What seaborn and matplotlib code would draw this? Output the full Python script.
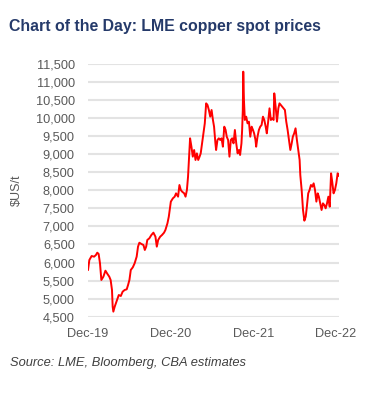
import matplotlib
matplotlib.use("Agg")
import matplotlib.pyplot as plt
import matplotlib.dates as mdates
import matplotlib.ticker as mticker
import pandas as pd
import seaborn as sns

dates = [
    "2019-12-01", "2019-12-07", "2019-12-17", "2019-12-28", "2020-01-05", "2020-01-11",
    "2020-01-17", "2020-01-23", "2020-01-29", "2020-02-07", "2020-02-16", "2020-02-25",
    "2020-03-04", "2020-03-10", "2020-03-16", "2020-03-19", "2020-03-22", "2020-03-28",
    "2020-04-06", "2020-04-15", "2020-04-24", "2020-05-02", "2020-05-11", "2020-05-20",
    "2020-05-26", "2020-06-01", "2020-06-07", "2020-06-16", "2020-06-24", "2020-07-03",
    "2020-07-09", "2020-07-15", "2020-07-24", "2020-08-02", "2020-08-08", "2020-08-14",
    "2020-08-19", "2020-08-28", "2020-09-06", "2020-09-15", "2020-09-24", "2020-09-30",
    "2020-10-06", "2020-10-15", "2020-10-23", "2020-11-01", "2020-11-07", "2020-11-16",
    "2020-11-22", "2020-12-01", "2020-12-10", "2020-12-18", "2020-12-24", "2021-01-02",
    "2021-01-08", "2021-01-14", "2021-01-20", "2021-01-29", "2021-02-04", "2021-02-10",
    "2021-02-15", "2021-02-18", "2021-02-21", "2021-02-24", "2021-03-02", "2021-03-08",
    "2021-03-14", "2021-03-20", "2021-03-26", "2021-04-01", "2021-04-07", "2021-04-12",
    "2021-04-18", "2021-04-24", "2021-04-30", "2021-05-06", "2021-05-12", "2021-05-18",
    "2021-05-24", "2021-05-30", "2021-06-05", "2021-06-10", "2021-06-16", "2021-06-19",
    "2021-06-25", "2021-07-01", "2021-07-07", "2021-07-13", "2021-07-19", "2021-07-25",
    "2021-07-31", "2021-08-05", "2021-08-11", "2021-08-17", "2021-08-23", "2021-08-29",
    "2021-09-04", "2021-09-10", "2021-09-16", "2021-09-22", "2021-09-28", "2021-10-03",
    "2021-10-09", "2021-10-12", "2021-10-15", "2021-10-17", "2021-10-20", "2021-10-24",
    "2021-10-30", "2021-11-05", "2021-11-11", "2021-11-17", "2021-11-23", "2021-11-29",
    "2021-12-04", "2021-12-10", "2021-12-13", "2021-12-19", "2021-12-25", "2021-12-31",
    "2022-01-06", "2022-01-12", "2022-01-18", "2022-01-24", "2022-01-29", "2022-02-04",
    "2022-02-10", "2022-02-16", "2022-02-22", "2022-02-28", "2022-03-03", "2022-03-09",
    "2022-03-15", "2022-03-21", "2022-03-26", "2022-04-01", "2022-04-07", "2022-04-13",
    "2022-04-19", "2022-04-25", "2022-05-01", "2022-05-07", "2022-05-13", "2022-05-19",
    "2022-05-24", "2022-05-30", "2022-06-05", "2022-06-11", "2022-06-17", "2022-06-23",
    "2022-06-26", "2022-07-02", "2022-07-08", "2022-07-14", "2022-07-20", "2022-07-25",
    "2022-07-31", "2022-08-06", "2022-08-12", "2022-08-18", "2022-08-24", "2022-08-30",
    "2022-09-05", "2022-09-11", "2022-09-16", "2022-09-22", "2022-09-28", "2022-10-04",
    "2022-10-10", "2022-10-16", "2022-10-22", "2022-10-28", "2022-11-03", "2022-11-09",
    "2022-11-14", "2022-11-20", "2022-11-26", "2022-12-02", "2022-12-08", "2022-12-14",
]

prices = [
    5790, 6071, 6181, 6163, 6209, 6274,
    6237, 5979, 5517, 5609, 5775, 5683,
    5609, 5517, 5240, 4778, 4640, 4778,
    4944, 5101, 5073, 5193, 5240, 5258,
    5378, 5517, 5794, 5868, 5979, 6163,
    6440, 6550, 6514, 6486, 6348, 6440,
    6625, 6671, 6763, 6828, 6717, 6440,
    6625, 6717, 6763, 6828, 6902, 7087,
    7271, 7687, 7779, 7825, 7917, 7825,
    8148, 8010, 7963, 7917, 7825, 8010,
    8379, 8748, 9118, 9441, 9210, 8933,
    9118, 8841, 9025, 8841, 8933, 9025,
    9302, 9579, 9856, 10410, 10364, 10226,
    10041, 10226, 9949, 9764, 9302, 9118,
    9395, 9441, 9395, 9441, 9210, 9764,
    9672, 9487, 9395, 8933, 9395, 9441,
    9302, 9672, 9302, 9025, 9118, 8979,
    9302, 9672, 10226, 11288, 10503, 9949,
    10041, 9856, 9903, 9487, 9764, 9672,
    9579, 9395, 9210, 9487, 9672, 9764,
    9810, 10041, 9949, 9764, 9579, 9903,
    10272, 9949, 9995, 9949, 10687, 10318,
    9903, 10272, 10410, 10364, 10318, 10272,
    10226, 9903, 9672, 9395, 9118, 9302,
    9487, 9579, 9718, 9395, 9118, 8841,
    8425, 8010, 7456, 7160, 7271, 7548,
    7917, 8010, 8148, 8102, 8194, 8010,
    7687, 7917, 7825, 7640, 7456, 7640,
    7594, 7502, 7640, 7825, 7548, 8471,
    8240, 7917, 8010, 8194, 8471, 8398,
]

tick_dates = ["2019-12-01", "2020-12-01", "2021-12-01", "2022-12-01"]
tick_labels = ["Dec-19", "Dec-20", "Dec-21", "Dec-22"]
y_ticks = list(range(4500, 12000, 500))

title = "Chart of the Day: LME copper spot prices"
ylabel = "$US/t"
source = "Source: LME, Bloomberg, CBA estimates"

sns.set_theme(style="white")
plt.rcParams["font.family"] = ["Liberation Sans", "DejaVu Sans"]

df = pd.DataFrame({"date": pd.to_datetime(dates), "price": prices})

fig = plt.figure(figsize=(3.75, 3.99), dpi=100)
ax = fig.add_axes([88 / 375, (399 - 316.7) / 399, (339 - 88) / 375, (316.7 - 64) / 399])

for yv in y_ticks:
    ax.axhline(yv, color="#e3e3e3", lw=1.5, zorder=0)

sns.lineplot(data=df, x="date", y="price", ax=ax, color="#ff0000", lw=1.4, zorder=3)

ax.set_ylim(4500, 11500)
ax.set_xlim(pd.Timestamp("2019-12-01"), pd.Timestamp("2022-12-14"))
ax.set_yticks(y_ticks)
ax.yaxis.set_major_formatter(mticker.FuncFormatter(lambda v, p: f"{int(v):,}"))
ax.set_xticks(pd.to_datetime(tick_dates))
ax.set_xticklabels(tick_labels)

for s in ax.spines.values():
    s.set_visible(False)
ax.tick_params(axis="y", length=0, pad=9.5, labelsize=9.2, labelcolor="#595959")
ax.tick_params(axis="x", length=0, pad=8, labelsize=9.2, labelcolor="#595959")
ax.set_xlabel("")
ax.set_ylabel(ylabel, fontsize=9, color="#595959", labelpad=6)
ax.yaxis.set_label_coords(-(88 - 23) / 251, 0.5)
ax.grid(False)

fig.text(9 / 375, 1 - 26 / 399, title, fontsize=11.4, fontweight="bold", color="#253a6a",
         ha="left", va="center")
fig.text(10 / 375, 1 - 363 / 399, source, fontsize=9.3, style="italic", color="#404040",
         ha="left", va="center")

fig.savefig("out.png", dpi=100)
